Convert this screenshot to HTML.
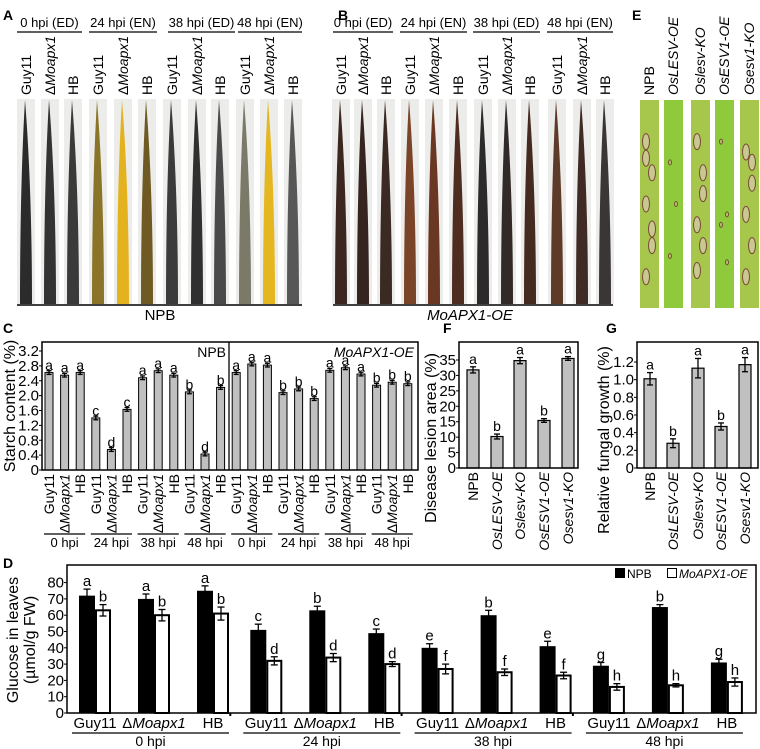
<!DOCTYPE html>
<html><head><meta charset="utf-8"><style>
body{margin:0;background:#fff}
svg{display:block;font-family:"Liberation Sans",sans-serif}
</style></head><body>
<svg id="fig" width="760" height="749" viewBox="0 0 760 749" xmlns="http://www.w3.org/2000/svg"></svg>
<script>
// ---- data ----
const strains = ["Guy11","ΔMoapx1","HB"];
const hpiLabels = ["0 hpi","24 hpi","38 hpi","48 hpi"];
const starchNPB = [2.62,2.55,2.62,1.40,0.55,1.63,2.48,2.67,2.55,2.10,0.43,2.22];
const starchOE  = [2.62,2.85,2.82,2.08,2.18,1.92,2.68,2.75,2.58,2.28,2.36,2.32];
const starchLettersNPB = ["a","a","a","c","d","c","a","a","a","b","d","b"];
const starchLettersOE  = ["a","a","a","b","b","b","a","a","a","b","b","b"];
const starchTicks = [0,0.4,0.8,1.2,1.6,2.0,2.4,2.8,3.2];
const lines = ["NPB","OsLESV-OE","Oslesv-KO","OsESV1-OE","Osesv1-KO"];
const lesion = [31.8,10.2,34.8,15.4,35.5];
const lesionErr = [1.0,0.8,1.0,0.6,0.6];
const lesionLetters = ["a","b","a","b","a"];
const lesionTicks = [0,5,10,15,20,25,30,35];
const fungal = [1.01,0.28,1.13,0.47,1.17];
const fungalErr = [0.07,0.05,0.11,0.04,0.08];
const fungalLetters = ["a","b","a","b","a"];
const fungalTicks = [0,0.2,0.4,0.6,0.8,1.0,1.2];
const glucNPB = [72,70,75,51,63,49,40,60,41,29,65,31];
const glucOE  = [63,60,61,32,34,30,27,25,23,16,17,19];
const glucErrNPB = [4,3,3,3.5,2.5,2.5,2.5,3,3,2,1.5,2];
const glucErrOE  = [3.5,3.5,4,2.5,2.5,1.5,3,2,2,2,1,2.5];
const glucLetNPB = ["a","a","a","c","b","c","e","b","e","g","b","g"];
const glucLetOE  = ["b","b","b","d","d","d","f","f","f","h","h","h"];
const glucTicks = [0,10,20,30,40,50,60,70,80];

const NS="http://www.w3.org/2000/svg";
const svg=document.getElementById('fig');
function el(tag,attrs,parent){const e=document.createElementNS(NS,tag);for(const k in attrs)e.setAttribute(k,attrs[k]);(parent||svg).appendChild(e);return e;}
function txt(s,attrs,parent){const e=el('text',attrs,parent);e.textContent=s;return e;}
function strainText(s,attrs){const e=el('text',attrs);
  if(s.startsWith('Δ')){const a=el('tspan',{},e);a.textContent='Δ';const b=el('tspan',{'font-style':'italic'},e);b.textContent=s.slice(1);}
  else e.textContent=s; return e;}

// ---- panel letters ----
[["A",3,20],["B",338,20],["E",632,20],["C",3,333],["F",443,333],["G",606,333],["D",3,568]].forEach(p=>{
  const t=txt(p[0],{x:p[1],y:p[2],'font-size':14,'font-weight':'bold'});
  
  
});

// ---- leaf photos A & B ----
const colA=["#2b2b2b","#333","#3a3a3a","#8a7428","#e3b21e","#6e5a22","#3b3b3b","#303030","#4a4a4a","#7b7a68","#e4b61f","#575757"];
const colB=["#3b2620","#352420","#3b2a24","#7a4428","#6a3822","#4e2c20","#2c2a2a","#312a28","#452a20","#5e3a28","#3f2a24","#3a3636"];
const xA=[26,50,73,98,123,147,172,197,220,245,269,293];
const xB=[341,363,386,410,434,458,483,507,530,557,582,605];
function drawLeaves(xs,cols,name){
  xs.forEach((cx,i)=>{
    const g=el('g',{});
    
    
    el('rect',{x:cx-9,y:99,width:18,height:205,fill:"#ececea"},g);
    el('path',{d:`M${cx-6},304 C${cx-6},220 ${cx-4},150 ${cx-1},100 C${cx+3},150 ${cx+6},220 ${cx+6},304 Z`,fill:cols[i]},g);
    strainText(strains[i%3],{x:0,y:0,'font-size':14,transform:`translate(${cx+5},95) rotate(-90)`});
  });
}
drawLeaves(xA,colA,'npb');
drawLeaves(xB,colB,'oe');
const hdrA=[[17,82],[89,157],[168,235],[238,302]];
const hdrB=[[333,393],[400,467],[473,540],[547,613]];
const hdrTxt=["0 hpi (ED)","24 hpi (EN)","38 hpi (ED)","48 hpi (EN)"];
[hdrA,hdrB].forEach((h,k)=>h.forEach((r,i)=>{
  el('line',{x1:r[0],x2:r[1],y1:32,y2:32,stroke:"#000",'stroke-width':1.3});
  const t=txt(hdrTxt[i],{x:(r[0]+r[1])/2,y:27,'font-size':13,'text-anchor':'middle'});
  
  
}));
el('line',{x1:17,x2:302,y1:305,y2:305,stroke:"#000",'stroke-width':1.5});
el('line',{x1:333,x2:613,y1:305,y2:305,stroke:"#000",'stroke-width':1.5});
txt("NPB",{x:160,y:320,'font-size':15,'text-anchor':'middle'});
txt("MoAPX1-OE",{x:470,y:320,'font-size':15,'text-anchor':'middle','font-style':'italic'});

// ---- E leaves ----
const xE=[649,673,700,724,749];
const lesionSpots=[[0.2,0.35,0.5,0.7,0.85,0.62,0.28],[0.3,0.5,0.75],[0.2,0.45,0.6,0.7,0.82,0.35],[0.2,0.55,0.6,0.78],[0.25,0.4,0.55,0.7,0.85,0.3]];
xE.forEach((cx,i)=>{
  const g=el('g',{});
  
  
  el('rect',{x:cx-9,y:100,width:19,height:208,fill:(i%2? "#8fca3c":"#a6c64c")},g);
  lesionSpots[i].forEach((f,j)=>{
    const big=(i%2===0);
    el('ellipse',{cx:cx+(j%2?3:-3),cy:100+208*f,rx:big?3.5:1.5,ry:big?8:2.5,fill:big?"#c8c890":"#a8c860",stroke:"#7a4a3a",'stroke-width':1},g);
  });
  txt(lines[i],{x:0,y:0,'font-size':14,'font-style':i?'italic':'normal',transform:`translate(${cx+5},95) rotate(-90)`});
});

// ---- generic bar helpers ----
function yAxis(x,y0,scale,ticks,fmt,fs){
  ticks.forEach(t=>{const y=y0-t*scale;
    el('line',{x1:x-3,x2:x,y1:y,y2:y,stroke:"#000"});
    txt(fmt(t),{x:x-3,y:y+5,'font-size':fs||15,'text-anchor':'end'});});
}
function errBar(cx,yTop,yLow,w){
  el('line',{x1:cx,x2:cx,y1:yTop,y2:yLow,stroke:"#000",'stroke-width':1.3});
  el('line',{x1:cx-w,x2:cx+w,y1:yTop,y2:yTop,stroke:"#000",'stroke-width':1.3});
  el('line',{x1:cx-w,x2:cx+w,y1:yLow,y2:yLow,stroke:"#000",'stroke-width':1.3});
}

// ---- Panel C ----
const cY0=470, cScale=(470-351)/3.2;
function cX(i){return 49+i*15.6;}
yAxis(42,cY0,cScale,starchTicks,t=>t===0?"0":t.toFixed(1),15);
const starchAll=starchNPB.concat(starchOE);
const starchLet=starchLettersNPB.concat(starchLettersOE);
starchAll.forEach((v,i)=>{
  const x=cX(i),h=v*cScale;
  const r=el('rect',{x:x-4,y:cY0-h,width:8,height:h,fill:"#c0c0c0",stroke:"#000",'stroke-width':1});
  
  
  errBar(x,cY0-(v+0.05)*cScale,cY0-(v-0.05)*cScale,2.5);
  txt(starchLet[i],{x:x,y:cY0-(v+0.07)*cScale,'font-size':14,'text-anchor':'middle'});
  strainText(strains[i%3],{x:0,y:0,'font-size':14,transform:`translate(${x+5},474) rotate(-90)`,'text-anchor':'end'});
});
el('rect',{x:42,y:342,width:376,height:128,fill:"none",stroke:"#000",'stroke-width':1.5});
el('line',{x1:229,x2:229,y1:342,y2:470,stroke:"#000",'stroke-width':1.3});
txt("NPB",{x:226,y:357,'font-size':14,'text-anchor':'end'});
txt("MoAPX1-OE",{x:414,y:357,'font-size':14,'text-anchor':'end','font-style':'italic'});
for(let g=0;g<8;g++){
  const a=cX(g*3)-5,b=cX(g*3+2)+5;
  el('line',{x1:a,x2:b,y1:534,y2:534,stroke:"#000",'stroke-width':1.2});
  txt(hpiLabels[g%4],{x:(a+b)/2,y:547,'font-size':13,'text-anchor':'middle'});
}
txt("Starch content (%)",{x:0,y:0,'font-size':16,'text-anchor':'middle',transform:"translate(15,406) rotate(-90)"});

// ---- Panel F & G ----
function smallPanel(x0,x1,xs,vals,errs,lets,ticks,scale,fmt,name){
  const y0=468;
  yAxis(x0,y0,scale,ticks,fmt,15);
  vals.forEach((v,i)=>{
    const x=xs[i],h=v*scale;
    const r=el('rect',{x:x-6,y:y0-h,width:12,height:h,fill:"#c0c0c0",stroke:"#000",'stroke-width':1.2});
    
    
    errBar(x,y0-(v+errs[i])*scale,y0-(v-errs[i])*scale,3);
    txt(lets[i],{x:x,y:y0-(v+errs[i])*scale-3,'font-size':14,'text-anchor':'middle'});
    txt(lines[i],{x:0,y:0,'font-size':14,'font-style':i?'italic':'normal','text-anchor':'end',transform:`translate(${x+5},472) rotate(-90)`});
  });
  el('rect',{x:x0,y:342,width:x1-x0,height:126,fill:"none",stroke:"#000",'stroke-width':1.5});
}
smallPanel(459,578,[473,497,520,544,568],lesion,lesionErr,lesionLetters,lesionTicks,(468-360)/35,t=>String(t),'lesion');
txt("Disease lesion area (%)",{x:0,y:0,'font-size':16,'text-anchor':'middle',transform:"translate(436,438) rotate(-90)"});
smallPanel(637,758,[650,673,698,721,745],fungal,fungalErr,fungalLetters,fungalTicks,(468-362)/1.2,t=>t===0?"0":t.toFixed(1),'fungal');
txt("Relative fungal growth (%)",{x:0,y:0,'font-size':16,'text-anchor':'middle',transform:"translate(609,440) rotate(-90)"});

// ---- Panel D ----
const dY0=713, dScale=1.63;
function dX(i){return 87+Math.floor(i/3)*171.3+(i%3)*59;}
yAxis(67,dY0,dScale,glucTicks,t=>String(t),15);
glucNPB.forEach((v,i)=>{
  const x=dX(i);
  const b=el('rect',{x:x-8,y:dY0-v*dScale,width:16,height:v*dScale,fill:"#000"});
  
  
  errBar(x,dY0-(v+glucErrNPB[i])*dScale,dY0-(v-glucErrNPB[i])*dScale,3.5);
  txt(glucLetNPB[i],{x:x,y:dY0-(v+glucErrNPB[i])*dScale-3,'font-size':15,'text-anchor':'middle'});
  const w=glucOE[i],xw=x+16;
  const r=el('rect',{x:xw-7,y:dY0-w*dScale,width:14,height:w*dScale,fill:"#fff",stroke:"#000",'stroke-width':2});
  
  
  errBar(xw,dY0-(w+glucErrOE[i])*dScale,dY0-(w-glucErrOE[i])*dScale,3.5);
  txt(glucLetOE[i],{x:xw,y:dY0-(w+glucErrOE[i])*dScale-3,'font-size':15,'text-anchor':'middle'});
  strainText(strains[i%3],{x:x+8,y:728,'font-size':15,'text-anchor':'middle'});
});
el('path',{d:"M67,565 L756,565 L756,713 L67,713 Z",fill:"none",stroke:"#000",'stroke-width':1.5});
for(let g=0;g<4;g++){
  const a=dX(g*3)-15,b=dX(g*3+2)+24;
  el('line',{x1:a,x2:b,y1:733,y2:733,stroke:"#000",'stroke-width':1.2});
  txt(hpiLabels[g],{x:(a+b)/2,y:746,'font-size':14,'text-anchor':'middle'});
  if(g>0) el('line',{x1:a-13,x2:a-13,y1:713,y2:716,stroke:"#000",'stroke-width':2});
}
const lg=el('g',{});


el('rect',{x:615,y:568,width:10,height:10,fill:"#000"},lg);
txt("NPB",{x:627,y:578,'font-size':12},lg);
el('rect',{x:667.5,y:568.5,width:9,height:9,fill:"#fff",stroke:"#000"},lg);
txt("MoAPX1-OE",{x:679,y:578,'font-size':12,'font-style':'italic'},lg);
txt("Glucose in leaves",{x:0,y:0,'font-size':16,'text-anchor':'middle',transform:"translate(18,640) rotate(-90)"});
txt("(µmol/g FW)",{x:0,y:0,'font-size':16,'text-anchor':'middle',transform:"translate(35,640) rotate(-90)"});
</script>
</body></html>
